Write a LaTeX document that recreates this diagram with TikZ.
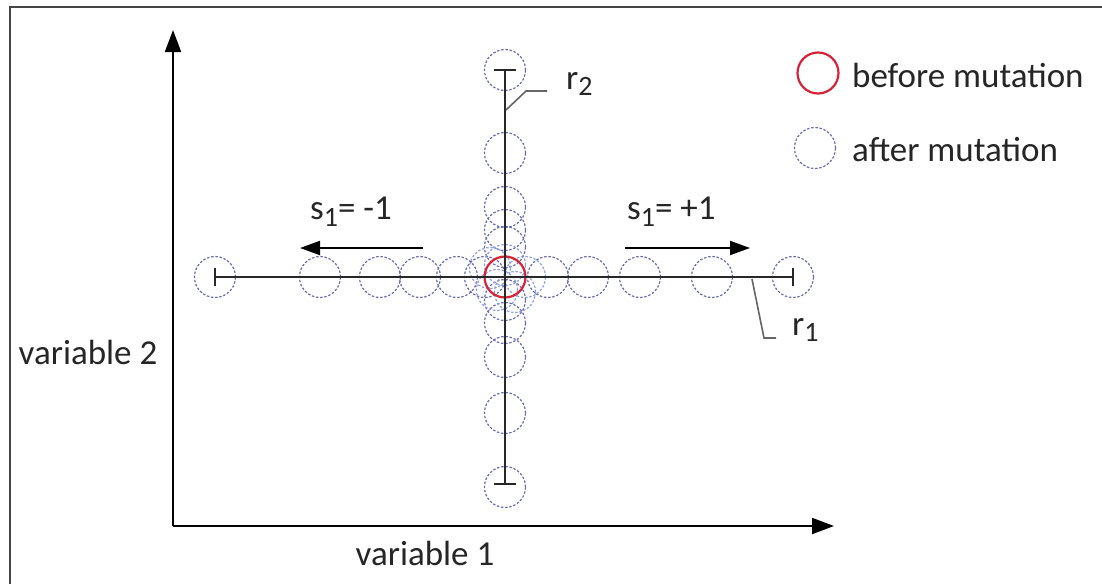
\documentclass[tikz,border=0pt]{standalone}
\usepackage{fontspec}
\setmainfont{Carlito}
\usetikzlibrary{arrows.meta}
\newcommand\mysub[1]{\raisebox{-0.4ex}{\scalebox{0.8}{#1}}}
\definecolor{aftercol}{RGB}{105,105,175}
\definecolor{lightcol}{RGB}{140,160,225}
\definecolor{beforecol}{RGB}{215,35,55}
\definecolor{framecol}{RGB}{70,70,70}
\definecolor{linecol}{RGB}{40,40,40}
\tikzset{
  after/.style={circle, draw=aftercol, dash pattern=on 2.4pt off 1.8pt, line width=1.2pt, minimum size=41pt, inner sep=0pt},
  afterlight/.style={after, draw=lightcol},
  before/.style={circle, draw=beforecol, line width=2.2pt, minimum size=41pt, inner sep=0pt},
  txt/.style={font=\fontsize{35}{40}\selectfont, inner sep=0pt, text=black!85},
  axis/.style={line width=2pt, draw=black, -{Triangle[length=22pt,width=16pt]}},
  rline/.style={line width=2pt, draw=linecol},
  tick/.style={line width=2pt, draw=linecol},
  lead/.style={line width=1.6pt, draw=black!60},
  sarrow/.style={line width=2pt, draw=black, -{Triangle[length=20pt,width=14pt]}}
}
\begin{document}
\begin{tikzpicture}[x=1pt,y=-1pt]
\useasboundingbox (0,0) rectangle (1102,584);
\fill[white] (0,0) rectangle (1102,584);
% frame
\draw[framecol, line width=2pt] (10,584) -- (10,7) -- (1102,7);
% after-mutation circles (horizontal)
\foreach \dx/\nm in {-290/h1,-185/h2,-125/h3,-85/h4,-48/h5,-20/h6,43/h8,83/h9,135/h10,207/h11,288/h12}
  \node[after] (\nm) at (505+\dx,277) {};
\node[afterlight] (h7) at (525,277) {};
% after-mutation circles (vertical)
\foreach \dy/\nm in {-207/v1,-124/v2,-70/v3,-47/v4,-30/v5,23/v7,46/v8,80/v9,136/v10,210/v11}
  \node[after] (\nm) at (505,277+\dy) {};
\node[afterlight] (v6) at (505,265) {};
\node[afterlight] (d1) at (497,290) {};
\node[afterlight] (d2) at (515,292) {};
\node[afterlight] (d3) at (490,268) {};
% before circle
\node[before] (C) at (505,277) {};
% axes
\coordinate (O) at (173,526);
\coordinate (Ytop) at (173,30);
\coordinate (Xend) at (834,526);
\draw[axis] (O) -- (Ytop);
\draw[axis] (O) -- (Xend);
% r lines
\coordinate (L) at (215,277);
\coordinate (R) at (793,277);
\coordinate (T) at (505,70);
\coordinate (B) at (505,484);
\draw[rline] (L) -- (R);
\draw[rline] (T) -- (B);
\draw[tick] ([yshift=-9pt]L) -- ([yshift=9pt]L);
\draw[tick] ([yshift=-9pt]R) -- ([yshift=9pt]R);
\draw[tick] ([xshift=-11pt]T) -- ([xshift=11pt]T);
\draw[tick] ([xshift=-11pt]B) -- ([xshift=11pt]B);
% r2 leader
\coordinate (r2a) at (506,110);
\coordinate (r2b) at (526,91);
\coordinate (r2c) at (547,91);
\draw[lead] (r2a) -- (r2b) -- (r2c);
\node[txt, anchor=west] (r2) at (566,84) {r\mysub{2}};
% r1 leader
\coordinate (r1a) at (752,279);
\coordinate (r1b) at (764,338);
\coordinate (r1c) at (776,338);
\draw[lead] (r1a) -- (r1b) -- (r1c);
\node[txt, anchor=west] (r1) at (792,330) {r\mysub{1}};
% s arrows
\coordinate (sla) at (423,248);
\coordinate (slb) at (300,248);
\coordinate (sra) at (625,248);
\coordinate (srb) at (750,248);
\draw[sarrow] (sla) -- (slb);
\draw[sarrow] (sra) -- (srb);
\node[txt, anchor=west] (sm) at (310,212) {s\mysub{1}= -1};
\node[txt, anchor=west] (sp) at (627,212) {s\mysub{1}= +1};
% legend
\node[before] (lb) at (818,73) {};
\node[after] (la) at (815,148) {};
\node[txt, anchor=west] (lbt) at (852,75) {before mutation};
\node[txt, anchor=west] (lat) at (852,150) {after mutation};
% axis labels
\node[txt] (v1lab) at (425,553) {variable 1};
\node[txt] (v2lab) at (88,352) {variable 2};
\end{tikzpicture}
\end{document}
